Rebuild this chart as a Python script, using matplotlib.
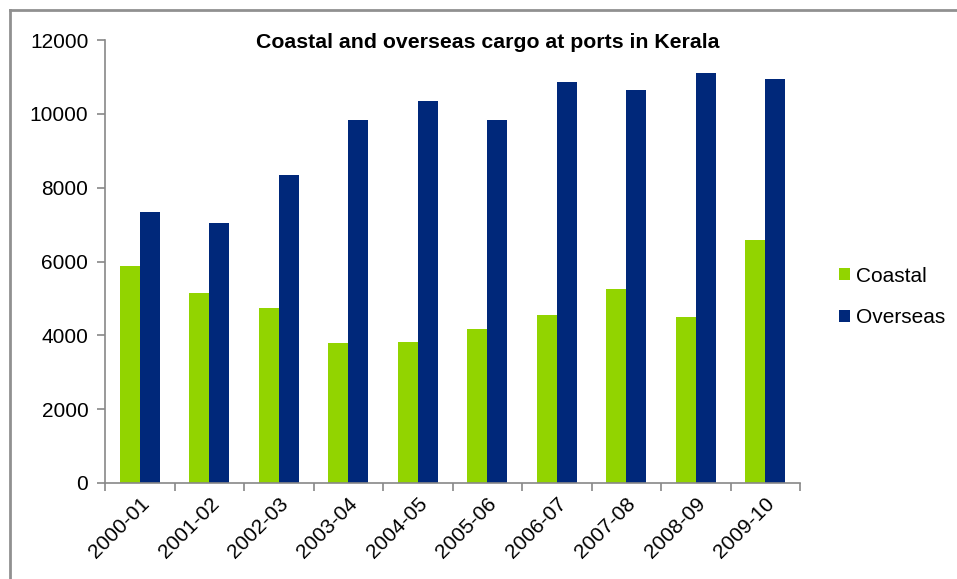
import numpy as np
import matplotlib.pyplot as plt
from matplotlib.lines import Line2D

plt.rcParams['font.family'] = ['Liberation Sans', 'DejaVu Sans']

years = ["2000-01", "2001-02", "2002-03", "2003-04", "2004-05",
         "2005-06", "2006-07", "2007-08", "2008-09", "2009-10"]
coastal = [5880, 5150, 4750, 3800, 3820, 4180, 4560, 5250, 4500, 6580]
overseas = [7350, 7030, 8340, 9820, 10360, 9840, 10870, 10650, 11100, 10950]

W, H = 957, 579
fig = plt.figure(figsize=(W / 100, H / 100), dpi=100)
ax = fig.add_axes([105 / W, 1 - 483 / H, (800 - 105) / W, (483 - 40) / H])

x = np.arange(len(years))
bw = 0.29
ax.bar(x - bw / 2, coastal, bw, color="#92D400", label="Coastal")
ax.bar(x + bw / 2, overseas, bw, color="#00287A", label="Overseas")

ax.set_xlim(-0.5, len(years) - 0.5)
ax.set_ylim(0, 12000)
ax.set_yticks(range(0, 12001, 2000))
ax.set_xticks(np.arange(len(years) + 1) - 0.5, minor=False)
ax.set_xticklabels([])
ax.set_xticks(x, minor=True)
ax.set_xticklabels(years, minor=True, rotation=45, ha="right", va="top",
                   rotation_mode="anchor", fontsize=15)
ax.tick_params(axis="x", which="minor", length=0, pad=8)
ax.tick_params(axis="x", which="major", length=6, color="#888888", width=1.2)
ax.tick_params(axis="y", length=6, color="#888888", width=1.2, labelsize=15, pad=6,
               direction="out")

for s in ["top", "right"]:
    ax.spines[s].set_visible(False)
for s in ["left", "bottom"]:
    ax.spines[s].set_color("#888888")
    ax.spines[s].set_linewidth(1.2)

fig.text(488 / W, 1 - 43 / H, "Coastal and overseas cargo at ports in Kerala",
         fontsize=15.3, fontweight="bold", ha="center", va="center")

ax.legend(loc="center left", bbox_to_anchor=(820 / W, 1 - 297 / H),
          bbox_transform=fig.transFigure, frameon=False, fontsize=15,
          handlelength=0.55, handleheight=0.55, handletextpad=0.3, labelspacing=1.1)

# outer chart frame
fig.add_artist(Line2D([10 / W, 10 / W], [0, 1 - 10 / H], color="#909090", lw=2))
fig.add_artist(Line2D([10 / W, 1], [1 - 10 / H, 1 - 10 / H], color="#909090", lw=2))

fig.savefig("out.png", dpi=100)
